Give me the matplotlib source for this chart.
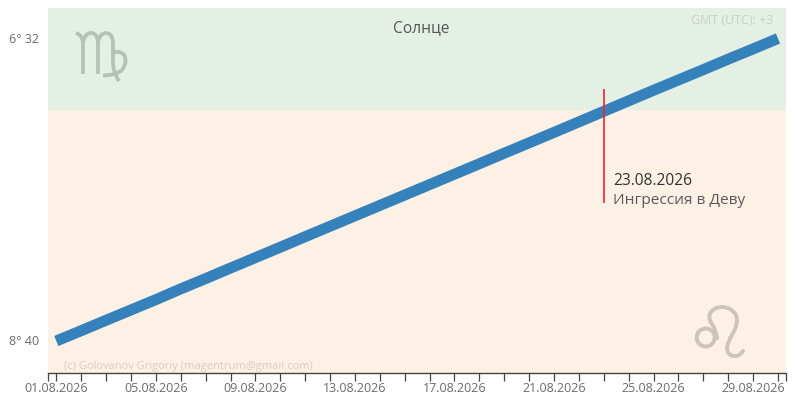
import matplotlib
matplotlib.use("Agg")
import matplotlib.pyplot as plt
from matplotlib.path import Path
from matplotlib.patches import PathPatch, Circle
from matplotlib.transforms import Affine2D, ScaledTranslation

plt.rcParams['font.family'] = ['Open Sans', 'DejaVu Sans']

W, H = 795, 407
days = list(range(30))
tick_labels = {0: '01.08.2026', 4: '05.08.2026', 8: '09.08.2026', 12: '13.08.2026',
               16: '17.08.2026', 20: '21.08.2026', 24: '25.08.2026', 28: '29.08.2026'}
longitude = [128.67, 129.62, 130.58, 131.53, 132.48, 133.47, 134.42, 135.39, 136.35, 137.31,
             138.28, 139.24, 140.20, 141.16, 142.12, 143.08, 144.04, 145.00, 145.97, 146.93,
             147.89, 148.86, 149.83, 150.80, 151.77, 152.72, 153.67, 154.64, 155.58, 156.54]
ingress_day = 22
y_ticks = [128.67, 156.54]
y_tick_labels = ['8° 40', '6° 32']
sign_boundary = 149.95

fig = plt.figure(figsize=(W / 100, H / 100), dpi=100)
L, R, T, B = 48.3, 785.7, 8, 372.5
ax = fig.add_axes([L / W, 1 - B / H, (R - L) / W, (B - T) / H])
px_day = (778 - 56.3) / 29
ax.set_xlim((L - 56.3) / px_day, (R - 56.3) / px_day)
px_deg = (341 - 38.5) / (y_ticks[1] - y_ticks[0])
ax.set_ylim(y_ticks[0] - (B - 341) / px_deg, y_ticks[0] + (341 - T) / px_deg)

ax.axhspan(ax.get_ylim()[0], sign_boundary, color='#fdf0e5', lw=0, zorder=0)
ax.axhspan(sign_boundary, ax.get_ylim()[1], color='#e5f0e4', lw=0, zorder=0)

ax.plot(days, longitude, color='#3581bb', lw=7.9, solid_capstyle='butt', solid_joinstyle='round', zorder=2)
ax.plot([ingress_day, ingress_day], [141.37, 151.85], color='#f2222e', lw=1.2, solid_capstyle='butt', zorder=3)

for s in ('top', 'left', 'right'):
    ax.spines[s].set_visible(False)
ax.spines['bottom'].set_color('#444444')
ax.spines['bottom'].set_linewidth(1)

ax.set_xticks(days + list(ax.get_xlim()))
ax.set_xticklabels([tick_labels.get(d, '') for d in days] + ['', ''])
ax.tick_params(axis='x', length=5.5, width=0.9, color='#444444', labelcolor='#6b6b6b', labelsize=9, pad=1)
ax.set_yticks(y_ticks)
ax.set_yticklabels(y_tick_labels)
ax.tick_params(axis='y', length=0, labelcolor='#6b6b6b', labelsize=9, pad=6.5)
for lab in ax.get_yticklabels():
    lab.set_transform(lab.get_transform() + ScaledTranslation(0, 0.4 / 72, fig.dpi_scale_trans))

def fx(x):
    return x / W
def fy(y):
    return 1 - y / H

fig.text(fx(421.5), fy(28), 'Солнце', ha='center', va='center', fontsize=11.2, color='#555555')
fig.text(fx(773), fy(21), 'GMT (UTC): +3', ha='right', va='center', fontsize=9, color='#c6d0c6')
fig.text(fx(613), fy(181), '23.08.2026', ha='left', va='center', fontsize=11.2, color='#333333')
fig.text(fx(613), fy(201), 'Ингрессия в Деву', ha='left', va='center', fontsize=11.05, color='#5a5a5a')
fig.text(fx(64.5), fy(366), '(c) Golovanov Grigoriy (magentrum@gmail.com)', ha='left', va='center',
         fontsize=8, color='#d8ccc0')

# pixel-space transform for the zodiac glyphs
px = Affine2D().scale(1, -1).translate(0, H)
M, C, LN = Path.MOVETO, Path.CURVE3, Path.LINETO

virgo_v = [(76, 33), (83, 35), (83, 44), (83, 74),
           (83, 42), (85, 33), (91, 33), (98, 33), (98, 44), (98, 74),
           (98, 42), (100, 33), (106, 33), (113, 33), (113, 44), (113, 62), (113, 72), (119, 81),
           (113, 53), (120, 50), (124, 55), (128, 62), (122, 70), (117, 75), (103, 75.5)]
virgo_c = [M, C, C, LN,
           M, C, C, C, C, LN,
           M, C, C, C, C, LN, C, C,
           M, C, C, C, C, C, C]
fig.add_artist(PathPatch(Path(virgo_v, virgo_c), fill=False, ec='#b5c0b6', lw=2.7, transform=px,
                         capstyle='butt', joinstyle='round'))

leo_v = [(717, 338), (716, 330), (712, 324), (707, 317), (711, 312), (715, 307), (722, 307),
         (731, 307), (736, 315), (739, 323), (733, 333), (727, 343), (727, 349), (728, 356), (735, 356),
         (740, 356), (743, 351)]
leo_c = [M] + [C] * 16
fig.add_artist(PathPatch(Path(leo_v, leo_c), fill=False, ec='#cdc3b9', lw=2.8, transform=px,
                         capstyle='round', joinstyle='round'))
fig.add_artist(Circle((705.7, 337.5), 9, fill=False, ec='#cdc3b9', lw=2.8, transform=px))

fig.savefig('out.png', dpi=100)
